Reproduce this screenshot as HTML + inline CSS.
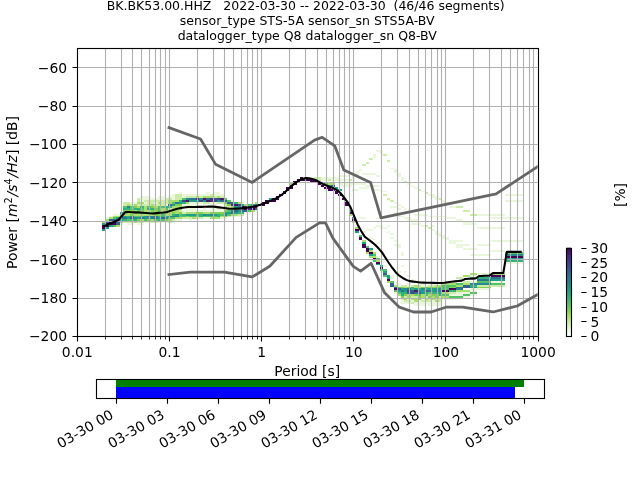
<!DOCTYPE html>
<html lang="en"><head><meta charset="utf-8"><title>PPSD BK.BK53.00.HHZ</title>
<style>html,body{margin:0;padding:0;background:#fff;overflow:hidden}svg{display:block;will-change:transform}</style></head>
<body>
<svg width="640" height="480" viewBox="0 0 640 480" font-family='"DejaVu Sans","Liberation Sans",sans-serif' font-size="13.89" fill="#000">
<rect width="640" height="480" fill="#fff"/>
<defs><clipPath id="c"><rect x="76.8" y="48" width="460.8" height="288"/></clipPath>
<linearGradient id="g" x1="0" y1="1" x2="0" y2="0">
<stop offset="0" stop-color="#ffffff"/>
<stop offset="0.03" stop-color="#f8fcf3"/>
<stop offset="0.06" stop-color="#eef9e2"/>
<stop offset="0.09" stop-color="#e3f4cf"/>
<stop offset="0.12" stop-color="#d6f0b9"/>
<stop offset="0.16" stop-color="#c8eaa1"/>
<stop offset="0.19" stop-color="#b9e588"/>
<stop offset="0.22" stop-color="#aadf6e"/>
<stop offset="0.25" stop-color="#99d952"/>
<stop offset="0.28" stop-color="#86d349"/>
<stop offset="0.31" stop-color="#6fce58"/>
<stop offset="0.34" stop-color="#5dc762"/>
<stop offset="0.38" stop-color="#4bc06c"/>
<stop offset="0.41" stop-color="#39b977"/>
<stop offset="0.44" stop-color="#30b17d"/>
<stop offset="0.47" stop-color="#29a982"/>
<stop offset="0.5" stop-color="#22a187"/>
<stop offset="0.53" stop-color="#20988a"/>
<stop offset="0.56" stop-color="#238f8c"/>
<stop offset="0.59" stop-color="#25868d"/>
<stop offset="0.62" stop-color="#287e8e"/>
<stop offset="0.66" stop-color="#2b758e"/>
<stop offset="0.69" stop-color="#2f6d8e"/>
<stop offset="0.72" stop-color="#33648d"/>
<stop offset="0.75" stop-color="#375b8c"/>
<stop offset="0.78" stop-color="#3b518a"/>
<stop offset="0.81" stop-color="#3f4788"/>
<stop offset="0.84" stop-color="#423c82"/>
<stop offset="0.88" stop-color="#45317d"/>
<stop offset="0.91" stop-color="#482677"/>
<stop offset="0.94" stop-color="#471a6b"/>
<stop offset="0.97" stop-color="#450d60"/>
<stop offset="1" stop-color="#440154"/>
</linearGradient></defs>
<g clip-path="url(#c)" shape-rendering="crispEdges">
<rect x="414" y="304" width="11" height="2" fill="#ebf7dc"/>
<rect x="428" y="304" width="14" height="2" fill="#ebf7dc"/>
<rect x="401" y="302" width="10" height="2" fill="#ebf7dc"/>
<rect x="411" y="302" width="3" height="2" fill="#cdecaa"/>
<rect x="414" y="302" width="28" height="2" fill="#ebf7dc"/>
<rect x="401" y="300" width="3" height="2" fill="#ebf7dc"/>
<rect x="404" y="300" width="7" height="2" fill="#cdecaa"/>
<rect x="411" y="300" width="3" height="2" fill="#ebf7dc"/>
<rect x="414" y="300" width="4" height="2" fill="#aadf6f"/>
<rect x="418" y="300" width="3" height="2" fill="#ebf7dc"/>
<rect x="421" y="300" width="11" height="2" fill="#cdecaa"/>
<rect x="432" y="300" width="3" height="2" fill="#ebf7dc"/>
<rect x="435" y="300" width="4" height="2" fill="#aadf6f"/>
<rect x="439" y="300" width="3" height="2" fill="#cdecaa"/>
<rect x="401" y="298" width="3" height="2" fill="#cdecaa"/>
<rect x="404" y="298" width="3" height="2" fill="#aadf6f"/>
<rect x="407" y="298" width="4" height="2" fill="#ebf7dc"/>
<rect x="411" y="298" width="7" height="2" fill="#aadf6f"/>
<rect x="418" y="298" width="3" height="2" fill="#80d14d"/>
<rect x="421" y="298" width="4" height="2" fill="#ebf7dc"/>
<rect x="425" y="298" width="3" height="2" fill="#aadf6f"/>
<rect x="428" y="298" width="4" height="2" fill="#cdecaa"/>
<rect x="432" y="298" width="3" height="2" fill="#aadf6f"/>
<rect x="435" y="298" width="7" height="2" fill="#cdecaa"/>
<rect x="442" y="298" width="14" height="2" fill="#ebf7dc"/>
<rect x="401" y="296" width="3" height="2" fill="#80d14d"/>
<rect x="404" y="296" width="3" height="2" fill="#cdecaa"/>
<rect x="407" y="296" width="4" height="2" fill="#aadf6f"/>
<rect x="411" y="296" width="7" height="2" fill="#cdecaa"/>
<rect x="418" y="296" width="3" height="2" fill="#80d14d"/>
<rect x="421" y="296" width="4" height="2" fill="#aadf6f"/>
<rect x="425" y="296" width="3" height="2" fill="#cdecaa"/>
<rect x="428" y="296" width="4" height="2" fill="#80d14d"/>
<rect x="432" y="296" width="3" height="2" fill="#aadf6f"/>
<rect x="435" y="296" width="4" height="2" fill="#80d14d"/>
<rect x="439" y="296" width="3" height="2" fill="#cdecaa"/>
<rect x="442" y="296" width="7" height="2" fill="#aadf6f"/>
<rect x="449" y="296" width="14" height="2" fill="#52c268"/>
<rect x="463" y="296" width="7" height="2" fill="#ebf7dc"/>
<rect x="397" y="294" width="4" height="2" fill="#aadf6f"/>
<rect x="401" y="294" width="3" height="2" fill="#30b27d"/>
<rect x="404" y="294" width="3" height="2" fill="#80d14d"/>
<rect x="407" y="294" width="7" height="2" fill="#aadf6f"/>
<rect x="414" y="294" width="4" height="2" fill="#80d14d"/>
<rect x="418" y="294" width="3" height="2" fill="#52c268"/>
<rect x="421" y="294" width="4" height="2" fill="#aadf6f"/>
<rect x="425" y="294" width="3" height="2" fill="#52c268"/>
<rect x="428" y="294" width="4" height="2" fill="#aadf6f"/>
<rect x="432" y="294" width="7" height="2" fill="#80d14d"/>
<rect x="439" y="294" width="3" height="2" fill="#30b27d"/>
<rect x="442" y="294" width="7" height="2" fill="#52c268"/>
<rect x="449" y="294" width="14" height="2" fill="#ebf7dc"/>
<rect x="463" y="294" width="7" height="2" fill="#52c268"/>
<rect x="470" y="294" width="7" height="2" fill="#ebf7dc"/>
<rect x="394" y="292" width="3" height="2" fill="#ebf7dc"/>
<rect x="397" y="292" width="4" height="2" fill="#52c268"/>
<rect x="401" y="292" width="6" height="2" fill="#30b27d"/>
<rect x="407" y="292" width="4" height="2" fill="#33628d"/>
<rect x="411" y="292" width="3" height="2" fill="#3d4c89"/>
<rect x="414" y="292" width="7" height="2" fill="#2b768e"/>
<rect x="421" y="292" width="4" height="2" fill="#209f88"/>
<rect x="425" y="292" width="3" height="2" fill="#30b27d"/>
<rect x="428" y="292" width="4" height="2" fill="#52c268"/>
<rect x="432" y="292" width="7" height="2" fill="#30b27d"/>
<rect x="439" y="292" width="3" height="2" fill="#209f88"/>
<rect x="442" y="292" width="7" height="2" fill="#aadf6f"/>
<rect x="449" y="292" width="7" height="2" fill="#cdecaa"/>
<rect x="456" y="292" width="14" height="2" fill="#ebf7dc"/>
<rect x="470" y="292" width="7" height="2" fill="#52c268"/>
<rect x="394" y="290" width="3" height="2" fill="#52c268"/>
<rect x="397" y="290" width="4" height="2" fill="#209f88"/>
<rect x="401" y="290" width="3" height="2" fill="#2b768e"/>
<rect x="404" y="290" width="3" height="2" fill="#209f88"/>
<rect x="407" y="290" width="4" height="2" fill="#3d4c89"/>
<rect x="411" y="290" width="3" height="2" fill="#33628d"/>
<rect x="414" y="290" width="4" height="2" fill="#461869"/>
<rect x="418" y="290" width="3" height="2" fill="#248a8d"/>
<rect x="421" y="290" width="4" height="2" fill="#209f88"/>
<rect x="425" y="290" width="3" height="2" fill="#33628d"/>
<rect x="428" y="290" width="4" height="2" fill="#2b768e"/>
<rect x="432" y="290" width="3" height="2" fill="#209f88"/>
<rect x="435" y="290" width="7" height="2" fill="#248a8d"/>
<rect x="442" y="290" width="7" height="2" fill="#440154"/>
<rect x="449" y="290" width="7" height="2" fill="#30b27d"/>
<rect x="456" y="290" width="14" height="2" fill="#aadf6f"/>
<rect x="470" y="290" width="7" height="2" fill="#ebf7dc"/>
<rect x="394" y="288" width="3" height="2" fill="#440154"/>
<rect x="397" y="288" width="4" height="2" fill="#33628d"/>
<rect x="401" y="288" width="3" height="2" fill="#209f88"/>
<rect x="404" y="288" width="3" height="2" fill="#248a8d"/>
<rect x="407" y="288" width="4" height="2" fill="#2b768e"/>
<rect x="411" y="288" width="3" height="2" fill="#30b27d"/>
<rect x="414" y="288" width="4" height="2" fill="#209f88"/>
<rect x="418" y="288" width="3" height="2" fill="#30b27d"/>
<rect x="421" y="288" width="4" height="2" fill="#248a8d"/>
<rect x="425" y="288" width="3" height="2" fill="#30b27d"/>
<rect x="428" y="288" width="14" height="2" fill="#209f88"/>
<rect x="442" y="288" width="7" height="2" fill="#52c268"/>
<rect x="449" y="288" width="7" height="2" fill="#440154"/>
<rect x="456" y="288" width="7" height="2" fill="#2b768e"/>
<rect x="470" y="288" width="21" height="2" fill="#ebf7dc"/>
<rect x="390" y="287" width="4" height="1" fill="#ebf7dc"/>
<rect x="394" y="287" width="3" height="1" fill="#33628d"/>
<rect x="397" y="287" width="4" height="1" fill="#52c268"/>
<rect x="401" y="287" width="3" height="1" fill="#80d14d"/>
<rect x="404" y="287" width="3" height="1" fill="#aadf6f"/>
<rect x="407" y="287" width="4" height="1" fill="#80d14d"/>
<rect x="411" y="287" width="3" height="1" fill="#30b27d"/>
<rect x="414" y="287" width="7" height="1" fill="#aadf6f"/>
<rect x="421" y="287" width="4" height="1" fill="#80d14d"/>
<rect x="425" y="287" width="3" height="1" fill="#52c268"/>
<rect x="428" y="287" width="11" height="1" fill="#80d14d"/>
<rect x="439" y="287" width="10" height="1" fill="#52c268"/>
<rect x="449" y="287" width="7" height="1" fill="#80d14d"/>
<rect x="456" y="287" width="7" height="1" fill="#2b768e"/>
<rect x="463" y="287" width="7" height="1" fill="#33628d"/>
<rect x="470" y="287" width="7" height="1" fill="#209f88"/>
<rect x="477" y="287" width="14" height="1" fill="#80d14d"/>
<rect x="390" y="285" width="4" height="2" fill="#33628d"/>
<rect x="394" y="285" width="3" height="2" fill="#aadf6f"/>
<rect x="397" y="285" width="4" height="2" fill="#ebf7dc"/>
<rect x="401" y="285" width="6" height="2" fill="#cdecaa"/>
<rect x="407" y="285" width="4" height="2" fill="#ebf7dc"/>
<rect x="411" y="285" width="3" height="2" fill="#cdecaa"/>
<rect x="414" y="285" width="4" height="2" fill="#aadf6f"/>
<rect x="418" y="285" width="3" height="2" fill="#cdecaa"/>
<rect x="421" y="285" width="7" height="2" fill="#ebf7dc"/>
<rect x="428" y="285" width="7" height="2" fill="#cdecaa"/>
<rect x="435" y="285" width="7" height="2" fill="#aadf6f"/>
<rect x="442" y="285" width="14" height="2" fill="#52c268"/>
<rect x="456" y="285" width="7" height="2" fill="#aadf6f"/>
<rect x="463" y="285" width="7" height="2" fill="#33628d"/>
<rect x="470" y="285" width="7" height="2" fill="#30b27d"/>
<rect x="477" y="285" width="28" height="2" fill="#cdecaa"/>
<rect x="390" y="283" width="4" height="2" fill="#33628d"/>
<rect x="394" y="283" width="7" height="2" fill="#ebf7dc"/>
<rect x="407" y="283" width="4" height="2" fill="#ebf7dc"/>
<rect x="418" y="283" width="7" height="2" fill="#ebf7dc"/>
<rect x="428" y="283" width="7" height="2" fill="#ebf7dc"/>
<rect x="442" y="283" width="14" height="2" fill="#aadf6f"/>
<rect x="456" y="283" width="7" height="2" fill="#52c268"/>
<rect x="463" y="283" width="7" height="2" fill="#aadf6f"/>
<rect x="470" y="283" width="21" height="2" fill="#248a8d"/>
<rect x="491" y="283" width="14" height="2" fill="#52c268"/>
<rect x="387" y="281" width="3" height="2" fill="#aadf6f"/>
<rect x="390" y="281" width="4" height="2" fill="#52c268"/>
<rect x="414" y="281" width="7" height="2" fill="#ebf7dc"/>
<rect x="442" y="281" width="7" height="2" fill="#ebf7dc"/>
<rect x="463" y="281" width="7" height="2" fill="#cdecaa"/>
<rect x="470" y="281" width="7" height="2" fill="#ebf7dc"/>
<rect x="477" y="281" width="14" height="2" fill="#52c268"/>
<rect x="491" y="281" width="14" height="2" fill="#ebf7dc"/>
<rect x="387" y="279" width="3" height="2" fill="#440154"/>
<rect x="411" y="279" width="3" height="2" fill="#ebf7dc"/>
<rect x="477" y="279" width="14" height="2" fill="#2b768e"/>
<rect x="491" y="279" width="14" height="2" fill="#209f88"/>
<rect x="387" y="277" width="3" height="2" fill="#209f88"/>
<rect x="390" y="277" width="4" height="2" fill="#ebf7dc"/>
<rect x="456" y="277" width="7" height="2" fill="#cdecaa"/>
<rect x="470" y="277" width="7" height="2" fill="#52c268"/>
<rect x="477" y="277" width="14" height="2" fill="#30b27d"/>
<rect x="491" y="277" width="14" height="2" fill="#2b768e"/>
<rect x="383" y="275" width="4" height="2" fill="#52c268"/>
<rect x="387" y="275" width="3" height="2" fill="#209f88"/>
<rect x="390" y="275" width="4" height="2" fill="#ebf7dc"/>
<rect x="407" y="275" width="4" height="2" fill="#ebf7dc"/>
<rect x="463" y="275" width="7" height="2" fill="#aadf6f"/>
<rect x="470" y="275" width="7" height="2" fill="#ebf7dc"/>
<rect x="491" y="275" width="14" height="2" fill="#440154"/>
<rect x="383" y="273" width="4" height="2" fill="#33628d"/>
<rect x="387" y="273" width="3" height="2" fill="#ebf7dc"/>
<rect x="470" y="273" width="7" height="2" fill="#aadf6f"/>
<rect x="477" y="273" width="14" height="2" fill="#ebf7dc"/>
<rect x="491" y="273" width="14" height="2" fill="#aadf6f"/>
<rect x="380" y="271" width="3" height="2" fill="#ebf7dc"/>
<rect x="383" y="271" width="4" height="2" fill="#209f88"/>
<rect x="397" y="271" width="4" height="2" fill="#ebf7dc"/>
<rect x="404" y="271" width="3" height="2" fill="#ebf7dc"/>
<rect x="380" y="269" width="7" height="2" fill="#52c268"/>
<rect x="380" y="267" width="3" height="2" fill="#440154"/>
<rect x="380" y="265" width="3" height="2" fill="#209f88"/>
<rect x="383" y="265" width="4" height="2" fill="#ebf7dc"/>
<rect x="401" y="265" width="3" height="2" fill="#ebf7dc"/>
<rect x="376" y="264" width="4" height="1" fill="#209f88"/>
<rect x="380" y="264" width="3" height="1" fill="#ebf7dc"/>
<rect x="376" y="262" width="4" height="2" fill="#440154"/>
<rect x="505" y="262" width="18" height="2" fill="#ebf7dc"/>
<rect x="373" y="260" width="3" height="2" fill="#52c268"/>
<rect x="376" y="260" width="4" height="2" fill="#aadf6f"/>
<rect x="505" y="260" width="18" height="2" fill="#30b27d"/>
<rect x="373" y="258" width="3" height="2" fill="#440154"/>
<rect x="376" y="258" width="4" height="2" fill="#52c268"/>
<rect x="505" y="258" width="18" height="2" fill="#209f88"/>
<rect x="369" y="256" width="7" height="2" fill="#aadf6f"/>
<rect x="376" y="256" width="4" height="2" fill="#ebf7dc"/>
<rect x="505" y="256" width="18" height="2" fill="#440154"/>
<rect x="369" y="254" width="4" height="2" fill="#209f88"/>
<rect x="373" y="254" width="3" height="2" fill="#52c268"/>
<rect x="401" y="254" width="3" height="2" fill="#ebf7dc"/>
<rect x="470" y="254" width="21" height="2" fill="#ebf7dc"/>
<rect x="505" y="254" width="18" height="2" fill="#248a8d"/>
<rect x="366" y="252" width="3" height="2" fill="#aadf6f"/>
<rect x="369" y="252" width="4" height="2" fill="#440154"/>
<rect x="373" y="252" width="3" height="2" fill="#aadf6f"/>
<rect x="401" y="252" width="3" height="2" fill="#ebf7dc"/>
<rect x="505" y="252" width="18" height="2" fill="#52c268"/>
<rect x="366" y="250" width="3" height="2" fill="#440154"/>
<rect x="369" y="250" width="4" height="2" fill="#aadf6f"/>
<rect x="491" y="250" width="14" height="2" fill="#ebf7dc"/>
<rect x="366" y="248" width="3" height="2" fill="#440154"/>
<rect x="369" y="248" width="4" height="2" fill="#209f88"/>
<rect x="463" y="248" width="14" height="2" fill="#ebf7dc"/>
<rect x="362" y="246" width="4" height="2" fill="#440154"/>
<rect x="366" y="246" width="3" height="2" fill="#52c268"/>
<rect x="397" y="246" width="4" height="2" fill="#ebf7dc"/>
<rect x="456" y="246" width="7" height="2" fill="#ebf7dc"/>
<rect x="362" y="244" width="4" height="2" fill="#440154"/>
<rect x="394" y="244" width="7" height="2" fill="#ebf7dc"/>
<rect x="456" y="244" width="14" height="2" fill="#ebf7dc"/>
<rect x="477" y="244" width="14" height="2" fill="#ebf7dc"/>
<rect x="362" y="242" width="4" height="2" fill="#209f88"/>
<rect x="376" y="242" width="4" height="2" fill="#ebf7dc"/>
<rect x="449" y="242" width="7" height="2" fill="#ebf7dc"/>
<rect x="362" y="240" width="4" height="2" fill="#aadf6f"/>
<rect x="394" y="240" width="3" height="2" fill="#ebf7dc"/>
<rect x="449" y="240" width="14" height="2" fill="#ebf7dc"/>
<rect x="491" y="240" width="32" height="2" fill="#ebf7dc"/>
<rect x="359" y="239" width="3" height="1" fill="#440154"/>
<rect x="373" y="239" width="3" height="1" fill="#ebf7dc"/>
<rect x="446" y="239" width="3" height="1" fill="#ebf7dc"/>
<rect x="359" y="237" width="3" height="2" fill="#440154"/>
<rect x="369" y="237" width="4" height="2" fill="#ebf7dc"/>
<rect x="390" y="237" width="4" height="2" fill="#ebf7dc"/>
<rect x="442" y="237" width="7" height="2" fill="#ebf7dc"/>
<rect x="359" y="235" width="3" height="2" fill="#52c268"/>
<rect x="439" y="235" width="7" height="2" fill="#ebf7dc"/>
<rect x="390" y="233" width="4" height="2" fill="#ebf7dc"/>
<rect x="435" y="233" width="7" height="2" fill="#ebf7dc"/>
<rect x="355" y="231" width="4" height="2" fill="#209f88"/>
<rect x="362" y="231" width="4" height="2" fill="#ebf7dc"/>
<rect x="387" y="231" width="3" height="2" fill="#ebf7dc"/>
<rect x="435" y="231" width="4" height="2" fill="#ebf7dc"/>
<rect x="102" y="229" width="4" height="2" fill="#209f88"/>
<rect x="355" y="229" width="4" height="2" fill="#440154"/>
<rect x="366" y="229" width="7" height="2" fill="#ebf7dc"/>
<rect x="432" y="229" width="3" height="2" fill="#ebf7dc"/>
<rect x="102" y="227" width="4" height="2" fill="#440154"/>
<rect x="106" y="227" width="3" height="2" fill="#209f88"/>
<rect x="355" y="227" width="4" height="2" fill="#aadf6f"/>
<rect x="373" y="227" width="3" height="2" fill="#ebf7dc"/>
<rect x="380" y="227" width="7" height="2" fill="#ebf7dc"/>
<rect x="428" y="227" width="4" height="2" fill="#cdecaa"/>
<rect x="477" y="227" width="28" height="2" fill="#ebf7dc"/>
<rect x="102" y="225" width="7" height="2" fill="#440154"/>
<rect x="109" y="225" width="4" height="2" fill="#209f88"/>
<rect x="113" y="225" width="3" height="2" fill="#52c268"/>
<rect x="116" y="225" width="4" height="2" fill="#aadf6f"/>
<rect x="376" y="225" width="7" height="2" fill="#ebf7dc"/>
<rect x="387" y="225" width="3" height="2" fill="#ebf7dc"/>
<rect x="421" y="225" width="4" height="2" fill="#ebf7dc"/>
<rect x="425" y="225" width="3" height="2" fill="#cdecaa"/>
<rect x="432" y="225" width="3" height="2" fill="#ebf7dc"/>
<rect x="102" y="223" width="4" height="2" fill="#209f88"/>
<rect x="106" y="223" width="10" height="2" fill="#440154"/>
<rect x="116" y="223" width="4" height="2" fill="#33628d"/>
<rect x="120" y="223" width="3" height="2" fill="#ebf7dc"/>
<rect x="127" y="223" width="7" height="2" fill="#ebf7dc"/>
<rect x="137" y="223" width="7" height="2" fill="#ebf7dc"/>
<rect x="411" y="223" width="10" height="2" fill="#ebf7dc"/>
<rect x="463" y="223" width="14" height="2" fill="#ebf7dc"/>
<rect x="102" y="221" width="4" height="2" fill="#aadf6f"/>
<rect x="106" y="221" width="3" height="2" fill="#33628d"/>
<rect x="109" y="221" width="7" height="2" fill="#440154"/>
<rect x="116" y="221" width="4" height="2" fill="#33628d"/>
<rect x="120" y="221" width="3" height="2" fill="#aadf6f"/>
<rect x="123" y="221" width="11" height="2" fill="#cdecaa"/>
<rect x="134" y="221" width="3" height="2" fill="#aadf6f"/>
<rect x="137" y="221" width="7" height="2" fill="#cdecaa"/>
<rect x="144" y="221" width="7" height="2" fill="#ebf7dc"/>
<rect x="151" y="221" width="7" height="2" fill="#cdecaa"/>
<rect x="158" y="221" width="10" height="2" fill="#ebf7dc"/>
<rect x="168" y="221" width="4" height="2" fill="#cdecaa"/>
<rect x="172" y="221" width="3" height="2" fill="#ebf7dc"/>
<rect x="352" y="221" width="3" height="2" fill="#aadf6f"/>
<rect x="463" y="221" width="10" height="2" fill="#ebf7dc"/>
<rect x="106" y="219" width="3" height="2" fill="#aadf6f"/>
<rect x="109" y="219" width="11" height="2" fill="#33628d"/>
<rect x="120" y="219" width="3" height="2" fill="#209f88"/>
<rect x="123" y="219" width="4" height="2" fill="#30b27d"/>
<rect x="127" y="219" width="7" height="2" fill="#52c268"/>
<rect x="134" y="219" width="3" height="2" fill="#30b27d"/>
<rect x="137" y="219" width="3" height="2" fill="#80d14d"/>
<rect x="140" y="219" width="4" height="2" fill="#aadf6f"/>
<rect x="144" y="219" width="3" height="2" fill="#52c268"/>
<rect x="147" y="219" width="4" height="2" fill="#80d14d"/>
<rect x="151" y="219" width="3" height="2" fill="#aadf6f"/>
<rect x="154" y="219" width="4" height="2" fill="#52c268"/>
<rect x="158" y="219" width="3" height="2" fill="#30b27d"/>
<rect x="161" y="219" width="4" height="2" fill="#52c268"/>
<rect x="165" y="219" width="3" height="2" fill="#80d14d"/>
<rect x="168" y="219" width="4" height="2" fill="#aadf6f"/>
<rect x="172" y="219" width="3" height="2" fill="#cdecaa"/>
<rect x="175" y="219" width="7" height="2" fill="#ebf7dc"/>
<rect x="189" y="219" width="3" height="2" fill="#ebf7dc"/>
<rect x="352" y="219" width="3" height="2" fill="#440154"/>
<rect x="407" y="219" width="11" height="2" fill="#ebf7dc"/>
<rect x="456" y="219" width="7" height="2" fill="#ebf7dc"/>
<rect x="106" y="217" width="3" height="2" fill="#ebf7dc"/>
<rect x="109" y="217" width="4" height="2" fill="#aadf6f"/>
<rect x="113" y="217" width="3" height="2" fill="#52c268"/>
<rect x="116" y="217" width="4" height="2" fill="#209f88"/>
<rect x="120" y="217" width="3" height="2" fill="#33628d"/>
<rect x="123" y="217" width="4" height="2" fill="#2b768e"/>
<rect x="127" y="217" width="3" height="2" fill="#209f88"/>
<rect x="130" y="217" width="4" height="2" fill="#33628d"/>
<rect x="134" y="217" width="3" height="2" fill="#248a8d"/>
<rect x="137" y="217" width="3" height="2" fill="#209f88"/>
<rect x="140" y="217" width="4" height="2" fill="#2b768e"/>
<rect x="144" y="217" width="3" height="2" fill="#248a8d"/>
<rect x="147" y="217" width="4" height="2" fill="#209f88"/>
<rect x="151" y="217" width="7" height="2" fill="#2b768e"/>
<rect x="158" y="217" width="3" height="2" fill="#209f88"/>
<rect x="161" y="217" width="4" height="2" fill="#33628d"/>
<rect x="165" y="217" width="3" height="2" fill="#248a8d"/>
<rect x="168" y="217" width="7" height="2" fill="#52c268"/>
<rect x="175" y="217" width="7" height="2" fill="#aadf6f"/>
<rect x="182" y="217" width="10" height="2" fill="#cdecaa"/>
<rect x="192" y="217" width="4" height="2" fill="#aadf6f"/>
<rect x="196" y="217" width="7" height="2" fill="#cdecaa"/>
<rect x="203" y="217" width="7" height="2" fill="#ebf7dc"/>
<rect x="210" y="217" width="10" height="2" fill="#aadf6f"/>
<rect x="220" y="217" width="7" height="2" fill="#ebf7dc"/>
<rect x="352" y="217" width="3" height="2" fill="#209f88"/>
<rect x="359" y="217" width="7" height="2" fill="#ebf7dc"/>
<rect x="376" y="217" width="4" height="2" fill="#ebf7dc"/>
<rect x="404" y="217" width="7" height="2" fill="#ebf7dc"/>
<rect x="446" y="217" width="10" height="2" fill="#ebf7dc"/>
<rect x="491" y="217" width="32" height="2" fill="#ebf7dc"/>
<rect x="109" y="216" width="4" height="1" fill="#ebf7dc"/>
<rect x="113" y="216" width="7" height="1" fill="#aadf6f"/>
<rect x="120" y="216" width="7" height="1" fill="#209f88"/>
<rect x="127" y="216" width="3" height="1" fill="#30b27d"/>
<rect x="130" y="216" width="4" height="1" fill="#248a8d"/>
<rect x="134" y="216" width="6" height="1" fill="#52c268"/>
<rect x="140" y="216" width="4" height="1" fill="#30b27d"/>
<rect x="144" y="216" width="3" height="1" fill="#209f88"/>
<rect x="147" y="216" width="4" height="1" fill="#2b768e"/>
<rect x="151" y="216" width="3" height="1" fill="#248a8d"/>
<rect x="154" y="216" width="4" height="1" fill="#2b768e"/>
<rect x="158" y="216" width="10" height="1" fill="#30b27d"/>
<rect x="168" y="216" width="11" height="1" fill="#248a8d"/>
<rect x="179" y="216" width="7" height="1" fill="#52c268"/>
<rect x="186" y="216" width="3" height="1" fill="#80d14d"/>
<rect x="189" y="216" width="7" height="1" fill="#52c268"/>
<rect x="196" y="216" width="3" height="1" fill="#80d14d"/>
<rect x="199" y="216" width="4" height="1" fill="#30b27d"/>
<rect x="203" y="216" width="14" height="1" fill="#52c268"/>
<rect x="217" y="216" width="3" height="1" fill="#30b27d"/>
<rect x="220" y="216" width="4" height="1" fill="#aadf6f"/>
<rect x="224" y="216" width="3" height="1" fill="#80d14d"/>
<rect x="227" y="216" width="4" height="1" fill="#cdecaa"/>
<rect x="231" y="216" width="10" height="1" fill="#ebf7dc"/>
<rect x="397" y="216" width="7" height="1" fill="#ebf7dc"/>
<rect x="428" y="216" width="18" height="1" fill="#ebf7dc"/>
<rect x="113" y="214" width="7" height="2" fill="#ebf7dc"/>
<rect x="120" y="214" width="3" height="2" fill="#52c268"/>
<rect x="123" y="214" width="7" height="2" fill="#aadf6f"/>
<rect x="130" y="214" width="4" height="2" fill="#80d14d"/>
<rect x="134" y="214" width="20" height="2" fill="#aadf6f"/>
<rect x="154" y="214" width="7" height="2" fill="#80d14d"/>
<rect x="161" y="214" width="4" height="2" fill="#52c268"/>
<rect x="165" y="214" width="7" height="2" fill="#aadf6f"/>
<rect x="172" y="214" width="3" height="2" fill="#30b27d"/>
<rect x="175" y="214" width="4" height="2" fill="#209f88"/>
<rect x="179" y="214" width="3" height="2" fill="#52c268"/>
<rect x="182" y="214" width="4" height="2" fill="#30b27d"/>
<rect x="186" y="214" width="10" height="2" fill="#209f88"/>
<rect x="196" y="214" width="3" height="2" fill="#52c268"/>
<rect x="199" y="214" width="4" height="2" fill="#30b27d"/>
<rect x="203" y="214" width="3" height="2" fill="#248a8d"/>
<rect x="206" y="214" width="4" height="2" fill="#209f88"/>
<rect x="210" y="214" width="3" height="2" fill="#248a8d"/>
<rect x="213" y="214" width="4" height="2" fill="#209f88"/>
<rect x="217" y="214" width="3" height="2" fill="#30b27d"/>
<rect x="220" y="214" width="4" height="2" fill="#52c268"/>
<rect x="224" y="214" width="3" height="2" fill="#248a8d"/>
<rect x="227" y="214" width="4" height="2" fill="#52c268"/>
<rect x="231" y="214" width="7" height="2" fill="#aadf6f"/>
<rect x="238" y="214" width="6" height="2" fill="#cdecaa"/>
<rect x="349" y="214" width="3" height="2" fill="#aadf6f"/>
<rect x="414" y="214" width="14" height="2" fill="#ebf7dc"/>
<rect x="470" y="214" width="7" height="2" fill="#cdecaa"/>
<rect x="477" y="214" width="28" height="2" fill="#ebf7dc"/>
<rect x="120" y="212" width="3" height="2" fill="#209f88"/>
<rect x="123" y="212" width="4" height="2" fill="#52c268"/>
<rect x="127" y="212" width="7" height="2" fill="#aadf6f"/>
<rect x="134" y="212" width="6" height="2" fill="#80d14d"/>
<rect x="140" y="212" width="4" height="2" fill="#52c268"/>
<rect x="144" y="212" width="7" height="2" fill="#80d14d"/>
<rect x="151" y="212" width="3" height="2" fill="#52c268"/>
<rect x="154" y="212" width="4" height="2" fill="#aadf6f"/>
<rect x="158" y="212" width="3" height="2" fill="#80d14d"/>
<rect x="161" y="212" width="4" height="2" fill="#52c268"/>
<rect x="165" y="212" width="3" height="2" fill="#80d14d"/>
<rect x="168" y="212" width="4" height="2" fill="#aadf6f"/>
<rect x="172" y="212" width="3" height="2" fill="#80d14d"/>
<rect x="175" y="212" width="4" height="2" fill="#aadf6f"/>
<rect x="179" y="212" width="3" height="2" fill="#80d14d"/>
<rect x="182" y="212" width="4" height="2" fill="#cdecaa"/>
<rect x="186" y="212" width="10" height="2" fill="#aadf6f"/>
<rect x="196" y="212" width="7" height="2" fill="#80d14d"/>
<rect x="203" y="212" width="7" height="2" fill="#aadf6f"/>
<rect x="210" y="212" width="14" height="2" fill="#80d14d"/>
<rect x="224" y="212" width="7" height="2" fill="#209f88"/>
<rect x="231" y="212" width="3" height="2" fill="#2b768e"/>
<rect x="234" y="212" width="4" height="2" fill="#209f88"/>
<rect x="238" y="212" width="6" height="2" fill="#30b27d"/>
<rect x="244" y="212" width="7" height="2" fill="#ebf7dc"/>
<rect x="349" y="212" width="3" height="2" fill="#440154"/>
<rect x="394" y="212" width="3" height="2" fill="#ebf7dc"/>
<rect x="123" y="210" width="11" height="2" fill="#80d14d"/>
<rect x="134" y="210" width="3" height="2" fill="#aadf6f"/>
<rect x="137" y="210" width="3" height="2" fill="#52c268"/>
<rect x="140" y="210" width="4" height="2" fill="#80d14d"/>
<rect x="144" y="210" width="7" height="2" fill="#aadf6f"/>
<rect x="151" y="210" width="7" height="2" fill="#80d14d"/>
<rect x="158" y="210" width="3" height="2" fill="#52c268"/>
<rect x="161" y="210" width="4" height="2" fill="#aadf6f"/>
<rect x="165" y="210" width="3" height="2" fill="#80d14d"/>
<rect x="168" y="210" width="11" height="2" fill="#aadf6f"/>
<rect x="179" y="210" width="3" height="2" fill="#cdecaa"/>
<rect x="182" y="210" width="42" height="2" fill="#ebf7dc"/>
<rect x="224" y="210" width="3" height="2" fill="#80d14d"/>
<rect x="227" y="210" width="4" height="2" fill="#52c268"/>
<rect x="231" y="210" width="3" height="2" fill="#248a8d"/>
<rect x="234" y="210" width="4" height="2" fill="#33628d"/>
<rect x="238" y="210" width="3" height="2" fill="#209f88"/>
<rect x="241" y="210" width="3" height="2" fill="#2b768e"/>
<rect x="244" y="210" width="4" height="2" fill="#33628d"/>
<rect x="248" y="210" width="3" height="2" fill="#52c268"/>
<rect x="251" y="210" width="4" height="2" fill="#aadf6f"/>
<rect x="255" y="210" width="3" height="2" fill="#ebf7dc"/>
<rect x="349" y="210" width="3" height="2" fill="#209f88"/>
<rect x="463" y="210" width="7" height="2" fill="#cdecaa"/>
<rect x="123" y="208" width="7" height="2" fill="#30b27d"/>
<rect x="130" y="208" width="4" height="2" fill="#52c268"/>
<rect x="134" y="208" width="6" height="2" fill="#30b27d"/>
<rect x="140" y="208" width="4" height="2" fill="#52c268"/>
<rect x="144" y="208" width="3" height="2" fill="#aadf6f"/>
<rect x="147" y="208" width="7" height="2" fill="#30b27d"/>
<rect x="154" y="208" width="4" height="2" fill="#80d14d"/>
<rect x="158" y="208" width="3" height="2" fill="#52c268"/>
<rect x="161" y="208" width="4" height="2" fill="#aadf6f"/>
<rect x="165" y="208" width="3" height="2" fill="#52c268"/>
<rect x="168" y="208" width="4" height="2" fill="#cdecaa"/>
<rect x="172" y="208" width="7" height="2" fill="#aadf6f"/>
<rect x="179" y="208" width="3" height="2" fill="#80d14d"/>
<rect x="186" y="208" width="10" height="2" fill="#ebf7dc"/>
<rect x="203" y="208" width="3" height="2" fill="#ebf7dc"/>
<rect x="210" y="208" width="14" height="2" fill="#ebf7dc"/>
<rect x="224" y="208" width="3" height="2" fill="#cdecaa"/>
<rect x="227" y="208" width="4" height="2" fill="#aadf6f"/>
<rect x="231" y="208" width="3" height="2" fill="#cdecaa"/>
<rect x="234" y="208" width="4" height="2" fill="#52c268"/>
<rect x="238" y="208" width="3" height="2" fill="#30b27d"/>
<rect x="241" y="208" width="3" height="2" fill="#3d4c89"/>
<rect x="244" y="208" width="4" height="2" fill="#440154"/>
<rect x="248" y="208" width="3" height="2" fill="#45337e"/>
<rect x="251" y="208" width="4" height="2" fill="#440154"/>
<rect x="255" y="208" width="3" height="2" fill="#33628d"/>
<rect x="397" y="208" width="4" height="2" fill="#ebf7dc"/>
<rect x="404" y="208" width="3" height="2" fill="#ebf7dc"/>
<rect x="123" y="206" width="4" height="2" fill="#52c268"/>
<rect x="127" y="206" width="3" height="2" fill="#248a8d"/>
<rect x="130" y="206" width="4" height="2" fill="#52c268"/>
<rect x="134" y="206" width="3" height="2" fill="#80d14d"/>
<rect x="137" y="206" width="3" height="2" fill="#aadf6f"/>
<rect x="140" y="206" width="4" height="2" fill="#30b27d"/>
<rect x="144" y="206" width="3" height="2" fill="#aadf6f"/>
<rect x="147" y="206" width="4" height="2" fill="#52c268"/>
<rect x="151" y="206" width="3" height="2" fill="#80d14d"/>
<rect x="154" y="206" width="4" height="2" fill="#aadf6f"/>
<rect x="158" y="206" width="7" height="2" fill="#52c268"/>
<rect x="165" y="206" width="7" height="2" fill="#30b27d"/>
<rect x="172" y="206" width="10" height="2" fill="#aadf6f"/>
<rect x="182" y="206" width="21" height="2" fill="#ebf7dc"/>
<rect x="206" y="206" width="14" height="2" fill="#ebf7dc"/>
<rect x="224" y="206" width="3" height="2" fill="#aadf6f"/>
<rect x="227" y="206" width="4" height="2" fill="#cdecaa"/>
<rect x="231" y="206" width="3" height="2" fill="#aadf6f"/>
<rect x="234" y="206" width="4" height="2" fill="#209f88"/>
<rect x="238" y="206" width="3" height="2" fill="#248a8d"/>
<rect x="241" y="206" width="3" height="2" fill="#440154"/>
<rect x="244" y="206" width="4" height="2" fill="#461869"/>
<rect x="248" y="206" width="3" height="2" fill="#3d4c89"/>
<rect x="251" y="206" width="7" height="2" fill="#440154"/>
<rect x="390" y="206" width="7" height="2" fill="#ebf7dc"/>
<rect x="401" y="206" width="3" height="2" fill="#ebf7dc"/>
<rect x="449" y="206" width="7" height="2" fill="#ebf7dc"/>
<rect x="456" y="206" width="7" height="2" fill="#cdecaa"/>
<rect x="123" y="204" width="4" height="2" fill="#cdecaa"/>
<rect x="127" y="204" width="3" height="2" fill="#aadf6f"/>
<rect x="130" y="204" width="4" height="2" fill="#cdecaa"/>
<rect x="134" y="204" width="3" height="2" fill="#aadf6f"/>
<rect x="137" y="204" width="14" height="2" fill="#cdecaa"/>
<rect x="151" y="204" width="3" height="2" fill="#aadf6f"/>
<rect x="154" y="204" width="11" height="2" fill="#cdecaa"/>
<rect x="165" y="204" width="3" height="2" fill="#ebf7dc"/>
<rect x="168" y="204" width="4" height="2" fill="#2b768e"/>
<rect x="172" y="204" width="3" height="2" fill="#209f88"/>
<rect x="175" y="204" width="7" height="2" fill="#80d14d"/>
<rect x="182" y="204" width="14" height="2" fill="#ebf7dc"/>
<rect x="203" y="204" width="3" height="2" fill="#ebf7dc"/>
<rect x="210" y="204" width="7" height="2" fill="#ebf7dc"/>
<rect x="224" y="204" width="3" height="2" fill="#cdecaa"/>
<rect x="227" y="204" width="4" height="2" fill="#80d14d"/>
<rect x="231" y="204" width="3" height="2" fill="#45337e"/>
<rect x="234" y="204" width="4" height="2" fill="#461869"/>
<rect x="238" y="204" width="3" height="2" fill="#3d4c89"/>
<rect x="241" y="204" width="3" height="2" fill="#209f88"/>
<rect x="244" y="204" width="4" height="2" fill="#aadf6f"/>
<rect x="248" y="204" width="3" height="2" fill="#52c268"/>
<rect x="251" y="204" width="4" height="2" fill="#209f88"/>
<rect x="255" y="204" width="3" height="2" fill="#2b768e"/>
<rect x="258" y="204" width="7" height="2" fill="#440154"/>
<rect x="345" y="204" width="4" height="2" fill="#440154"/>
<rect x="397" y="204" width="4" height="2" fill="#ebf7dc"/>
<rect x="123" y="202" width="7" height="2" fill="#cdecaa"/>
<rect x="130" y="202" width="7" height="2" fill="#ebf7dc"/>
<rect x="137" y="202" width="7" height="2" fill="#aadf6f"/>
<rect x="144" y="202" width="3" height="2" fill="#ebf7dc"/>
<rect x="147" y="202" width="7" height="2" fill="#cdecaa"/>
<rect x="154" y="202" width="4" height="2" fill="#ebf7dc"/>
<rect x="158" y="202" width="3" height="2" fill="#aadf6f"/>
<rect x="161" y="202" width="7" height="2" fill="#cdecaa"/>
<rect x="168" y="202" width="4" height="2" fill="#aadf6f"/>
<rect x="172" y="202" width="3" height="2" fill="#52c268"/>
<rect x="175" y="202" width="4" height="2" fill="#2b768e"/>
<rect x="179" y="202" width="3" height="2" fill="#209f88"/>
<rect x="182" y="202" width="4" height="2" fill="#30b27d"/>
<rect x="186" y="202" width="3" height="2" fill="#aadf6f"/>
<rect x="189" y="202" width="7" height="2" fill="#ebf7dc"/>
<rect x="196" y="202" width="3" height="2" fill="#cdecaa"/>
<rect x="199" y="202" width="4" height="2" fill="#ebf7dc"/>
<rect x="203" y="202" width="7" height="2" fill="#cdecaa"/>
<rect x="210" y="202" width="7" height="2" fill="#ebf7dc"/>
<rect x="217" y="202" width="7" height="2" fill="#cdecaa"/>
<rect x="224" y="202" width="3" height="2" fill="#80d14d"/>
<rect x="227" y="202" width="7" height="2" fill="#33628d"/>
<rect x="234" y="202" width="4" height="2" fill="#30b27d"/>
<rect x="238" y="202" width="3" height="2" fill="#aadf6f"/>
<rect x="241" y="202" width="3" height="2" fill="#ebf7dc"/>
<rect x="251" y="202" width="4" height="2" fill="#ebf7dc"/>
<rect x="255" y="202" width="3" height="2" fill="#aadf6f"/>
<rect x="262" y="202" width="7" height="2" fill="#440154"/>
<rect x="345" y="202" width="4" height="2" fill="#440154"/>
<rect x="394" y="202" width="3" height="2" fill="#ebf7dc"/>
<rect x="442" y="202" width="7" height="2" fill="#ebf7dc"/>
<rect x="137" y="200" width="3" height="2" fill="#cdecaa"/>
<rect x="140" y="200" width="4" height="2" fill="#ebf7dc"/>
<rect x="144" y="200" width="24" height="2" fill="#cdecaa"/>
<rect x="168" y="200" width="11" height="2" fill="#aadf6f"/>
<rect x="179" y="200" width="3" height="2" fill="#30b27d"/>
<rect x="182" y="200" width="4" height="2" fill="#3d4c89"/>
<rect x="186" y="200" width="3" height="2" fill="#461869"/>
<rect x="189" y="200" width="10" height="2" fill="#209f88"/>
<rect x="199" y="200" width="4" height="2" fill="#3d4c89"/>
<rect x="203" y="200" width="3" height="2" fill="#248a8d"/>
<rect x="206" y="200" width="4" height="2" fill="#461869"/>
<rect x="210" y="200" width="3" height="2" fill="#45337e"/>
<rect x="213" y="200" width="4" height="2" fill="#3d4c89"/>
<rect x="217" y="200" width="3" height="2" fill="#248a8d"/>
<rect x="220" y="200" width="7" height="2" fill="#33628d"/>
<rect x="227" y="200" width="4" height="2" fill="#52c268"/>
<rect x="231" y="200" width="3" height="2" fill="#ebf7dc"/>
<rect x="265" y="200" width="11" height="2" fill="#440154"/>
<rect x="390" y="200" width="4" height="2" fill="#cdecaa"/>
<rect x="442" y="200" width="4" height="2" fill="#ebf7dc"/>
<rect x="505" y="200" width="18" height="2" fill="#ebf7dc"/>
<rect x="137" y="198" width="3" height="2" fill="#cdecaa"/>
<rect x="140" y="198" width="25" height="2" fill="#ebf7dc"/>
<rect x="165" y="198" width="7" height="2" fill="#cdecaa"/>
<rect x="172" y="198" width="3" height="2" fill="#ebf7dc"/>
<rect x="175" y="198" width="7" height="2" fill="#cdecaa"/>
<rect x="182" y="198" width="4" height="2" fill="#52c268"/>
<rect x="186" y="198" width="3" height="2" fill="#248a8d"/>
<rect x="189" y="198" width="7" height="2" fill="#2b768e"/>
<rect x="196" y="198" width="3" height="2" fill="#45337e"/>
<rect x="199" y="198" width="4" height="2" fill="#248a8d"/>
<rect x="203" y="198" width="3" height="2" fill="#461869"/>
<rect x="206" y="198" width="4" height="2" fill="#33628d"/>
<rect x="210" y="198" width="3" height="2" fill="#45337e"/>
<rect x="213" y="198" width="7" height="2" fill="#3d4c89"/>
<rect x="220" y="198" width="4" height="2" fill="#461869"/>
<rect x="224" y="198" width="3" height="2" fill="#52c268"/>
<rect x="269" y="198" width="3" height="2" fill="#209f88"/>
<rect x="272" y="198" width="7" height="2" fill="#440154"/>
<rect x="342" y="198" width="3" height="2" fill="#440154"/>
<rect x="387" y="198" width="3" height="2" fill="#cdecaa"/>
<rect x="435" y="198" width="4" height="2" fill="#ebf7dc"/>
<rect x="439" y="198" width="3" height="2" fill="#cdecaa"/>
<rect x="140" y="196" width="11" height="2" fill="#ebf7dc"/>
<rect x="158" y="196" width="7" height="2" fill="#ebf7dc"/>
<rect x="168" y="196" width="7" height="2" fill="#ebf7dc"/>
<rect x="175" y="196" width="7" height="2" fill="#cdecaa"/>
<rect x="182" y="196" width="4" height="2" fill="#ebf7dc"/>
<rect x="186" y="196" width="10" height="2" fill="#cdecaa"/>
<rect x="196" y="196" width="3" height="2" fill="#aadf6f"/>
<rect x="199" y="196" width="4" height="2" fill="#cdecaa"/>
<rect x="203" y="196" width="10" height="2" fill="#aadf6f"/>
<rect x="213" y="196" width="4" height="2" fill="#cdecaa"/>
<rect x="217" y="196" width="3" height="2" fill="#aadf6f"/>
<rect x="220" y="196" width="4" height="2" fill="#cdecaa"/>
<rect x="276" y="196" width="3" height="2" fill="#440154"/>
<rect x="432" y="196" width="7" height="2" fill="#ebf7dc"/>
<rect x="172" y="194" width="3" height="2" fill="#ebf7dc"/>
<rect x="175" y="194" width="7" height="2" fill="#cdecaa"/>
<rect x="182" y="194" width="28" height="2" fill="#ebf7dc"/>
<rect x="210" y="194" width="3" height="2" fill="#cdecaa"/>
<rect x="213" y="194" width="11" height="2" fill="#ebf7dc"/>
<rect x="279" y="194" width="4" height="2" fill="#440154"/>
<rect x="338" y="194" width="4" height="2" fill="#440154"/>
<rect x="383" y="194" width="4" height="2" fill="#cdecaa"/>
<rect x="428" y="194" width="7" height="2" fill="#ebf7dc"/>
<rect x="505" y="194" width="18" height="2" fill="#ebf7dc"/>
<rect x="179" y="192" width="3" height="2" fill="#ebf7dc"/>
<rect x="206" y="192" width="4" height="2" fill="#ebf7dc"/>
<rect x="213" y="192" width="7" height="2" fill="#ebf7dc"/>
<rect x="283" y="192" width="3" height="2" fill="#440154"/>
<rect x="335" y="192" width="3" height="2" fill="#440154"/>
<rect x="425" y="192" width="3" height="2" fill="#cdecaa"/>
<rect x="283" y="191" width="3" height="1" fill="#440154"/>
<rect x="335" y="191" width="3" height="1" fill="#440154"/>
<rect x="380" y="191" width="7" height="1" fill="#ebf7dc"/>
<rect x="421" y="191" width="4" height="1" fill="#ebf7dc"/>
<rect x="286" y="189" width="4" height="2" fill="#440154"/>
<rect x="328" y="189" width="7" height="2" fill="#440154"/>
<rect x="338" y="189" width="4" height="2" fill="#209f88"/>
<rect x="352" y="189" width="7" height="2" fill="#ebf7dc"/>
<rect x="373" y="189" width="7" height="2" fill="#ebf7dc"/>
<rect x="418" y="189" width="3" height="2" fill="#cdecaa"/>
<rect x="286" y="187" width="7" height="2" fill="#440154"/>
<rect x="324" y="187" width="7" height="2" fill="#440154"/>
<rect x="335" y="187" width="3" height="2" fill="#209f88"/>
<rect x="359" y="187" width="10" height="2" fill="#ebf7dc"/>
<rect x="414" y="187" width="4" height="2" fill="#ebf7dc"/>
<rect x="290" y="185" width="3" height="2" fill="#440154"/>
<rect x="321" y="185" width="3" height="2" fill="#440154"/>
<rect x="328" y="185" width="3" height="2" fill="#209f88"/>
<rect x="331" y="185" width="4" height="2" fill="#33628d"/>
<rect x="342" y="185" width="10" height="2" fill="#ebf7dc"/>
<rect x="366" y="185" width="14" height="2" fill="#ebf7dc"/>
<rect x="411" y="185" width="3" height="2" fill="#ebf7dc"/>
<rect x="290" y="183" width="3" height="2" fill="#aadf6f"/>
<rect x="293" y="183" width="4" height="2" fill="#440154"/>
<rect x="317" y="183" width="4" height="2" fill="#440154"/>
<rect x="324" y="183" width="4" height="2" fill="#52c268"/>
<rect x="328" y="183" width="7" height="2" fill="#aadf6f"/>
<rect x="338" y="183" width="28" height="2" fill="#ebf7dc"/>
<rect x="407" y="183" width="4" height="2" fill="#ebf7dc"/>
<rect x="293" y="181" width="7" height="2" fill="#440154"/>
<rect x="310" y="181" width="7" height="2" fill="#440154"/>
<rect x="404" y="181" width="3" height="2" fill="#cdecaa"/>
<rect x="297" y="179" width="17" height="2" fill="#440154"/>
<rect x="314" y="179" width="3" height="2" fill="#209f88"/>
<rect x="317" y="179" width="4" height="2" fill="#cdecaa"/>
<rect x="321" y="179" width="7" height="2" fill="#ebf7dc"/>
<rect x="328" y="179" width="3" height="2" fill="#cdecaa"/>
<rect x="331" y="179" width="18" height="2" fill="#ebf7dc"/>
<rect x="349" y="179" width="3" height="2" fill="#cdecaa"/>
<rect x="352" y="179" width="3" height="2" fill="#ebf7dc"/>
<rect x="401" y="179" width="3" height="2" fill="#ebf7dc"/>
<rect x="300" y="177" width="3" height="2" fill="#440154"/>
<rect x="314" y="177" width="7" height="2" fill="#cdecaa"/>
<rect x="321" y="177" width="17" height="2" fill="#ebf7dc"/>
<rect x="352" y="177" width="3" height="2" fill="#ebf7dc"/>
<rect x="401" y="177" width="3" height="2" fill="#ebf7dc"/>
<rect x="338" y="175" width="11" height="2" fill="#ebf7dc"/>
<rect x="352" y="175" width="3" height="2" fill="#ebf7dc"/>
<rect x="376" y="175" width="4" height="2" fill="#ebf7dc"/>
<rect x="397" y="175" width="4" height="2" fill="#ebf7dc"/>
<rect x="355" y="173" width="4" height="2" fill="#ebf7dc"/>
<rect x="362" y="173" width="14" height="2" fill="#ebf7dc"/>
<rect x="397" y="173" width="4" height="2" fill="#ebf7dc"/>
<rect x="355" y="171" width="4" height="2" fill="#ebf7dc"/>
<rect x="394" y="171" width="3" height="2" fill="#ebf7dc"/>
<rect x="359" y="169" width="3" height="2" fill="#ebf7dc"/>
<rect x="394" y="169" width="3" height="2" fill="#ebf7dc"/>
<rect x="390" y="168" width="4" height="1" fill="#ebf7dc"/>
<rect x="362" y="164" width="4" height="2" fill="#cdecaa"/>
<rect x="366" y="162" width="3" height="2" fill="#cdecaa"/>
<rect x="387" y="160" width="3" height="2" fill="#cdecaa"/>
<rect x="369" y="158" width="4" height="2" fill="#cdecaa"/>
<rect x="373" y="156" width="3" height="2" fill="#ebf7dc"/>
<rect x="373" y="154" width="3" height="2" fill="#ebf7dc"/>
<rect x="383" y="154" width="4" height="2" fill="#cdecaa"/>
<rect x="380" y="152" width="3" height="2" fill="#ebf7dc"/>
<rect x="376" y="150" width="7" height="2" fill="#ebf7dc"/>
</g>
<path d="M105.5 48V336M121.5 48V336M132.5 48V336M141.5 48V336M149.5 48V336M155.5 48V336M160.5 48V336M165.5 48V336M169.5 48V336M197.5 48V336M213.5 48V336M224.5 48V336M233.5 48V336M241.5 48V336M247.5 48V336M252.5 48V336M257.5 48V336M261.5 48V336M289.5 48V336M305.5 48V336M317.5 48V336M326.5 48V336M333.5 48V336M339.5 48V336M344.5 48V336M349.5 48V336M353.5 48V336M381.5 48V336M397.5 48V336M409.5 48V336M418.5 48V336M425.5 48V336M431.5 48V336M437.5 48V336M441.5 48V336M445.5 48V336M473.5 48V336M489.5 48V336M501.5 48V336M510.5 48V336M517.5 48V336M523.5 48V336M529.5 48V336M533.5 48V336M76.8 298.5H537.6M76.8 259.5H537.6M76.8 221.5H537.6M76.8 182.5H537.6M76.8 144.5H537.6M76.8 106.5H537.6M76.8 67.5H537.6" stroke="#b0b0b0" stroke-width="1.11" fill="none"/>
<g clip-path="url(#c)" fill="none" stroke-linejoin="round" stroke-linecap="square">
<polyline points="168.96,127.68 200.52,139.01 215.51,164.16 252.19,182.4 314.55,140.16 322.2,137.28 334.79,145.92 343.85,169.92 370.56,182.4 381.02,217.92 496.13,193.92 721.92,45.12" stroke="#666" stroke-width="2.78"/>
<polyline points="168.96,274.56 190.2,272.06 224.45,272.06 252.19,276.86 269.73,266.3 296.16,237.41 319.5,222.91 325.54,222.91 332.83,238.08 353.28,266.4 360.58,271.2 371.08,263.29 384.66,292.8 399.33,307.18 413.48,312 431.16,312 445.84,307.2 462.72,307.18 492.98,311.98 517.15,306.01 629.76,243.61" stroke="#666" stroke-width="2.78"/>
<polyline points="104.54,226.05 108.01,224.55 111.48,223.04 114.95,221.54 118.41,220.04 121.88,216.03 125.35,211.96 128.82,212.06 132.29,212.22 135.75,212.37 139.22,212.55 142.69,212.8 146.16,213.06 149.63,213.31 153.09,213.42 156.56,213.11 160.03,212.79 163.5,212.48 166.97,211.95 170.43,210.88 173.9,209.8 177.37,208.7 180.84,208.03 184.3,207.45 187.77,206.99 191.24,206.97 194.71,206.94 198.18,206.91 201.64,206.85 205.11,206.74 208.58,206.64 212.05,206.53 215.52,206.86 218.98,207.35 222.45,207.81 225.92,208.24 229.39,208.67 232.86,208.68 236.32,208.59 239.79,208.51 243.26,208.11 246.73,207.69 250.19,207.26 253.66,206.52 257.13,205.78 260.6,204.63 264.07,203.35 267.53,202 271,200.64 274.47,199.12 277.94,197.53 281.41,194.95 284.87,192.2 288.34,189.02 291.81,185.87 295.28,182.82 298.75,180.53 302.21,178.99 305.68,178.13 309.15,178.27 312.62,179.06 316.08,180.35 319.55,182.25 323.02,184.01 326.49,185.57 329.96,186.88 333.42,188.17 336.89,190.17 340.36,192.95 343.83,197.26 347.3,201.77 350.76,207.77 354.23,216.39 357.7,224.71 361.17,231.03 364.64,236.63 368.1,239.25 371.57,241.91 375.04,244.8 378.51,248.3 381.98,252.37 385.44,257.75 388.91,262.99 392.38,267.97 395.85,272.48 399.31,275.66 402.78,278 406.25,279.86 409.72,281.15 413.19,281.65 416.65,282.08 420.12,282.5 423.59,282.59 427.06,282.68 430.53,282.77 433.99,282.89 437.46,283.01 440.93,283.03 444.4,282.79 447.87,282.26 451.33,281.76 454.8,281.38 458.27,281 461.74,280.6 465.2,279 468.67,278.8 472.14,278.6 475.61,278.5 479.08,276 482.54,275.9 486.01,275.7 489.48,275.6 492.95,273.1 496.42,273 499.88,273 503.35,272.9 506.82,251.9 510.29,251.9 513.76,251.9 517.22,251.9 520.69,251.9" stroke="#000" stroke-width="2.08"/>
</g>
<g stroke="#000" stroke-width="1.11" fill="none">
<rect x="77.5" y="48.5" width="461" height="288"/>
<path d="M77.5 336.5v5M169.5 336.5v5M261.5 336.5v5M353.5 336.5v5M445.5 336.5v5M538.5 336.5v5M77.5 336.5h-5M77.5 298.5h-5M77.5 259.5h-5M77.5 221.5h-5M77.5 182.5h-5M77.5 144.5h-5M77.5 106.5h-5M77.5 67.5h-5"/>
<path d="M105.5 336.5v2.92M121.5 336.5v2.92M132.5 336.5v2.92M141.5 336.5v2.92M149.5 336.5v2.92M155.5 336.5v2.92M160.5 336.5v2.92M165.5 336.5v2.92M197.5 336.5v2.92M213.5 336.5v2.92M224.5 336.5v2.92M233.5 336.5v2.92M241.5 336.5v2.92M247.5 336.5v2.92M252.5 336.5v2.92M257.5 336.5v2.92M289.5 336.5v2.92M305.5 336.5v2.92M317.5 336.5v2.92M326.5 336.5v2.92M333.5 336.5v2.92M339.5 336.5v2.92M344.5 336.5v2.92M349.5 336.5v2.92M381.5 336.5v2.92M397.5 336.5v2.92M409.5 336.5v2.92M418.5 336.5v2.92M425.5 336.5v2.92M431.5 336.5v2.92M437.5 336.5v2.92M441.5 336.5v2.92M473.5 336.5v2.92M489.5 336.5v2.92M501.5 336.5v2.92M510.5 336.5v2.92M517.5 336.5v2.92M523.5 336.5v2.92M529.5 336.5v2.92M533.5 336.5v2.92" stroke-width="0.83"/>
</g>
<text x="77.3" y="357.3" text-anchor="middle">0.01</text>
<text x="169.46" y="357.3" text-anchor="middle">0.1</text>
<text x="261.62" y="357.3" text-anchor="middle">1</text>
<text x="353.78" y="357.3" text-anchor="middle">10</text>
<text x="445.94" y="357.3" text-anchor="middle">100</text>
<text x="538.1" y="357.3" text-anchor="middle">1000</text>
<text x="67.1" y="341.3" text-anchor="end">−200</text>
<text x="67.1" y="302.9" text-anchor="end">−180</text>
<text x="67.1" y="264.5" text-anchor="end">−160</text>
<text x="67.1" y="226.1" text-anchor="end">−140</text>
<text x="67.1" y="187.7" text-anchor="end">−120</text>
<text x="67.1" y="149.3" text-anchor="end">−100</text>
<text x="67.1" y="110.9" text-anchor="end">−80</text>
<text x="67.1" y="72.5" text-anchor="end">−60</text>
<text x="307.2" y="376.2" text-anchor="middle">Period [s]</text>
<text transform="translate(16.6 192.5) rotate(-90)" text-anchor="middle">Power [<tspan font-style="italic">m</tspan><tspan font-size="9.72" dy="-5.1">2</tspan><tspan dy="5.1" dx="0.9" font-style="italic">/s</tspan><tspan font-size="9.72" dy="-5.1">4</tspan><tspan dy="5.1" dx="0.9" font-style="italic">/Hz</tspan>] [dB]</text>
<g font-size="12.5" text-anchor="middle">
<text x="305.7" y="9.6">BK.BK53.00.HHZ   2022-03-30 -- 2022-03-30  (46/46 segments)</text>
<text x="307.2" y="24.6">sensor_type STS-5A sensor_sn STS5A-BV</text>
<text x="307.2" y="39.6">datalogger_type Q8 datalogger_sn Q8-BV</text>
</g>
<rect x="566.4" y="247.68" width="4.8" height="88.32" fill="url(#g)"/>
<rect x="566.5" y="248.5" width="5" height="88" fill="none" stroke="#000" stroke-width="1.11"/>
<text x="590.5" y="341.3">0</text>
<text x="590.5" y="326.58">5</text>
<text x="590.5" y="311.86">10</text>
<text x="590.5" y="297.14">15</text>
<text x="590.5" y="282.42">20</text>
<text x="590.5" y="267.7">25</text>
<text x="590.5" y="252.98">30</text>
<path d="M581.3 336.5h5.2M581.3 321.5h5.2M581.3 307.5h5.2M581.3 292.5h5.2M581.3 277.5h5.2M581.3 262.5h5.2M581.3 248.5h5.2" stroke="#000" stroke-width="1.11"/>
<text transform="translate(625.3 195) rotate(-90)" text-anchor="middle">[%]</text>
<rect x="116.4" y="379.2" width="407.6" height="7.7" fill="#008000" shape-rendering="crispEdges"/>
<rect x="116.4" y="386.9" width="398.6" height="11.5" fill="#0000ff" shape-rendering="crispEdges"/>
<rect x="96.5" y="379.5" width="448" height="19" fill="none" stroke="#000" stroke-width="1.11"/>
<text transform="translate(114.5 417.5) rotate(-30)" text-anchor="end">03-30 00</text>
<text transform="translate(165.5 417.5) rotate(-30)" text-anchor="end">03-30 03</text>
<text transform="translate(216.5 417.5) rotate(-30)" text-anchor="end">03-30 06</text>
<text transform="translate(267.5 417.5) rotate(-30)" text-anchor="end">03-30 09</text>
<text transform="translate(318.5 417.5) rotate(-30)" text-anchor="end">03-30 12</text>
<text transform="translate(369.5 417.5) rotate(-30)" text-anchor="end">03-30 15</text>
<text transform="translate(420.5 417.5) rotate(-30)" text-anchor="end">03-30 18</text>
<text transform="translate(471.5 417.5) rotate(-30)" text-anchor="end">03-30 21</text>
<text transform="translate(522.5 417.5) rotate(-30)" text-anchor="end">03-31 00</text>
<path d="M116.5 398.9v4.86M167.5 398.9v4.86M218.5 398.9v4.86M269.5 398.9v4.86M320.5 398.9v4.86M371.5 398.9v4.86M422.5 398.9v4.86M473.5 398.9v4.86M524.5 398.9v4.86" stroke="#000" stroke-width="1.11"/>
</svg>
</body></html>
